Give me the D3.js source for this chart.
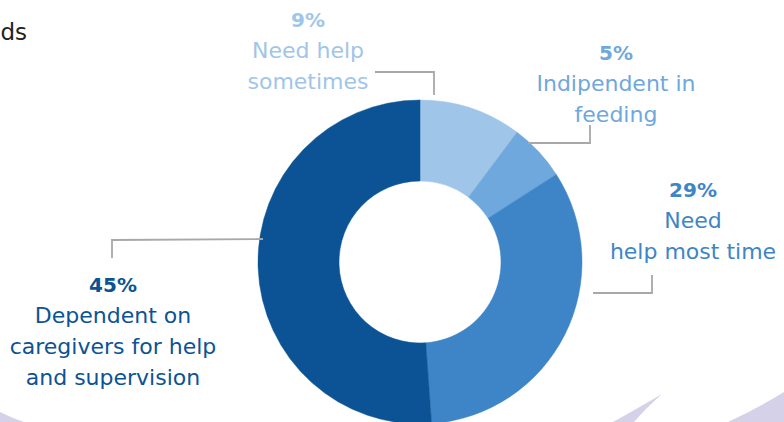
<!DOCTYPE html>
<html>
<head>
<meta charset="utf-8">
<script src="https://cdn.jsdelivr.net/npm/d3@7/dist/d3.min.js"></script>
<style>
  html, body { margin: 0; padding: 0; background: #fff; }
  svg { display: block; }
  text { font-family: "DejaVu Sans", sans-serif; }
</style>
</head>
<body>
<svg id="chart" width="784" height="422"></svg>
<script>
// ---- data ----
const categories = ["Need help sometimes", "Indipendent in feeding", "Need help most time", "Dependent on caregivers for help and supervision"];
const values = [9, 5, 29, 45];
const percentLabels = ["9%", "5%", "29%", "45%"];
const labelLines = [
  ["Need help", "sometimes"],
  ["Indipendent in", "feeding"],
  ["Need", "help most time"],
  ["Dependent on", "caregivers for help", "and supervision"]
];
const colors = ["#9fc5e8", "#6fa8dc", "#3d85c6", "#0b5394"];

// ---- layout ----
const W = 784, H = 422;
const cx = 420, cy = 262, outerR = 162, innerR = 81;
const labelLayout = [
  { x: 308, y: 27, lead: [[375, 72], [434, 72], [434, 95]] },
  { x: 616, y: 60, lead: [[590, 125], [590, 143], [528, 143]] },
  { x: 693, y: 197, lead: [[652, 275], [652, 293], [593, 293]] },
  { x: 113, y: 292, lead: [[112, 258], [112, 240], [263, 239]] }
];
const lineH = 31;

const svg = d3.select("#chart");

// decorative lavender shapes at bottom
const deco = svg.append("g").attr("fill", "#d5d1e8");
deco.append("path").attr("d", "M613,422 Q640,407 662,394 Q645,409 634,422 Z");
deco.append("path").attr("d", "M728,422 Q758,408 784,392 L784,422 Z");
deco.append("path").attr("d", "M0,412 Q12,418 24,422 L0,422 Z");

// title fragment (rest of title lies outside the frame)
svg.append("text").attr("x", 27).attr("y", 40).attr("text-anchor", "end")
  .attr("font-size", 23).attr("fill", "#222").text("ds");

// donut
const pie = d3.pie().sort(null).value(d => d);
const arcs = pie(values);
const arc = d3.arc().innerRadius(innerR).outerRadius(outerR);
const g = svg.append("g").attr("transform", `translate(${cx},${cy})`);
g.selectAll("path.slice").data(arcs).join("path")
  .attr("class", "slice")
  .attr("d", arc)
  .attr("fill", (d, i) => colors[i])
  .attr("stroke", (d, i) => colors[i])
  .attr("stroke-width", 0.5);

// leader lines
svg.selectAll("path.lead").data(labelLayout).join("path")
  .attr("class", "lead")
  .attr("d", d => d3.line()(d.lead))
  .attr("fill", "none")
  .attr("stroke", "#a8a8a8")
  .attr("stroke-width", 1.8);

// labels
labelLayout.forEach((L, i) => {
  const t = svg.append("text").attr("text-anchor", "middle").attr("fill", colors[i]);
  t.append("tspan").attr("x", L.x).attr("y", L.y)
    .attr("font-weight", "bold").attr("font-size", 20).text(percentLabels[i]);
  labelLines[i].forEach((ln, j) => {
    t.append("tspan").attr("x", L.x).attr("y", L.y + lineH * (j + 1))
      .attr("font-size", 22).text(ln);
  });
});
</script>
</body>
</html>
